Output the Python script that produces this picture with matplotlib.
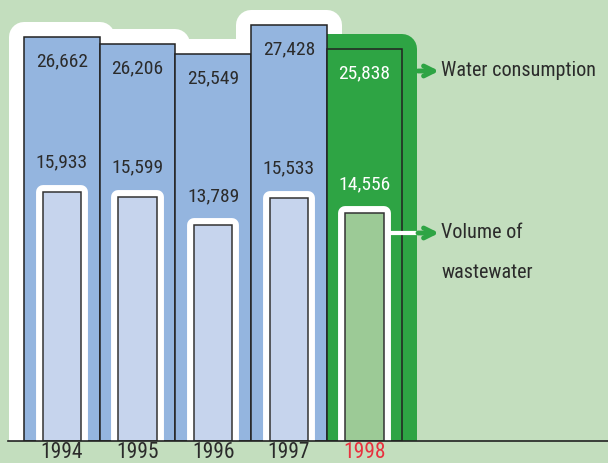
import matplotlib.pyplot as plt
from matplotlib import font_manager as fm

years = ["1994", "1995", "1996", "1997", "1998"]
consumption = [26662, 26206, 25549, 27428, 25838]
wastewater = [15933, 15599, 13789, 15533, 14556]
consumption_labels = ["26,662", "26,206", "25,549", "27,428", "25,838"]
wastewater_labels = ["15,933", "15,599", "13,789", "15,533", "14,556"]

BG = "#C3DEBE"
BLUE = "#94B5DF"
LIGHT_BLUE = "#C6D4ED"
GREEN = "#2EA444"
LIGHT_GREEN = "#9CCA96"
INK = "#2B2B2B"
RED = "#E8313F"


def narrow_font():
    # prefer a condensed / narrow upright regular face if one is installed
    best = None
    for f in fm.fontManager.ttflist:
        narrow = ("Narrow" in f.name or "Condensed" in f.name
                  or f.stretch in ("condensed", "semi-condensed", "extra-condensed"))
        if not narrow or f.style != "normal":
            continue
        w = f.weight if isinstance(f.weight, int) else 400
        if w != 400:
            continue
        if "Mono" in f.name or "Serif" in f.name:
            continue
        if best is None or f.stretch == "condensed":
            best = f
    if best is None:
        return fm.FontProperties(family="DejaVu Sans"), False
    return fm.FontProperties(fname=best.fname), True


FONT, IS_NARROW = narrow_font()
SCALE = 1.0 if IS_NARROW else 0.82

fig = plt.figure(figsize=(6.08, 4.63), dpi=100)
fig.patch.set_facecolor(BG)
ax = fig.add_axes([0, 0, 1, 1])
ax.set_xlim(-0.82, 7.222)
ax.set_ylim(-1451, 29084)
ax.axis("off")

# the wastewater bars sit on their own scale, sharing the baseline
ax2 = ax.twinx()
ax2.set_ylim(-1406, 28180)
ax2.axis("off")

x = list(range(len(years)))
last = len(years) - 1

# white outline behind the earlier years, green one behind the latest
ax.bar(x[:last], consumption[:last], width=1.0, color="white", edgecolor="white",
       linewidth=21.6, joinstyle="round", zorder=1)
ax.bar(x[last], consumption[last], width=1.0, color=GREEN, edgecolor=GREEN,
       linewidth=21.6, joinstyle="round", zorder=2)

outer_colors = [BLUE] * last + [GREEN]
ax.bar(x, consumption, width=1.0, color=outer_colors, edgecolor="#222222",
       linewidth=1.1, zorder=3)

for i, (v, lab) in enumerate(zip(consumption, consumption_labels)):
    ax.annotate(lab, xy=(i, v), xytext=(0, -17.5), textcoords="offset points",
                ha="center", va="center", fontproperties=FONT, fontsize=14 * SCALE,
                color="white" if i == last else INK, zorder=5)

inner_colors = [LIGHT_BLUE] * last + [LIGHT_GREEN]
ax2.bar(x, wastewater, width=0.51, color="white", edgecolor="white",
        linewidth=10, joinstyle="round", zorder=1)
ax2.bar(x, wastewater, width=0.51, color=inner_colors, edgecolor="#333333",
        linewidth=1.1, zorder=2)

for i, (v, lab) in enumerate(zip(wastewater, wastewater_labels)):
    ax2.annotate(lab, xy=(i, v), xytext=(0, 21), textcoords="offset points",
                 ha="center", va="center", fontproperties=FONT, fontsize=14 * SCALE,
                 color="white" if i == last else INK, zorder=5)

# hide the outlines below the baseline, then draw the baseline itself
ax2.axhspan(-1406, 0, color=BG, zorder=6, linewidth=0)
ax2.axhline(0, xmin=8 / 608, xmax=1, color="#222222", linewidth=1.2, zorder=7)

for i, yr in enumerate(years):
    ax2.annotate(yr, xy=(i, 0), xytext=(0, -1), textcoords="offset points",
                 ha="center", va="top", fontproperties=FONT, fontsize=15.5 * SCALE,
                 color=RED if i == last else INK, zorder=8)

# series names with pointers
arrow = dict(arrowstyle="->", color=GREEN, lw=3.5, mutation_scale=18,
             shrinkA=0, shrinkB=0)
ax.annotate("", xy=(439, 392), xytext=(418, 392), xycoords="figure pixels",
            textcoords="figure pixels", arrowprops=arrow, zorder=6)
fig.text(441, 392, "Water consumption", transform=None, ha="left", va="center",
         fontproperties=FONT, fontsize=14.5 * SCALE, color=INK)

ax.plot([387, 418], [230, 230], transform=None, color="white", lw=3,
        solid_capstyle="butt", zorder=6)
ax.annotate("", xy=(439, 230), xytext=(418, 230), xycoords="figure pixels",
            textcoords="figure pixels", arrowprops=arrow, zorder=6)
fig.text(441, 230, "Volume of", transform=None, ha="left", va="center",
         fontproperties=FONT, fontsize=14.5 * SCALE, color=INK)
fig.text(441, 191, "wastewater", transform=None, ha="left", va="center",
         fontproperties=FONT, fontsize=14.5 * SCALE, color=INK)

fig.savefig("out.png", dpi=100, facecolor=BG)
